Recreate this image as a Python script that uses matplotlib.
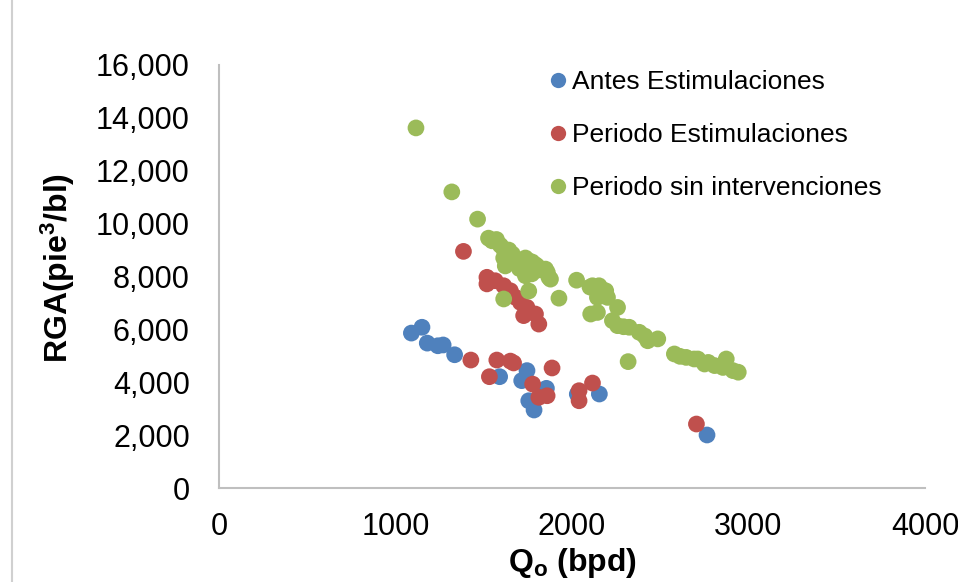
import matplotlib
matplotlib.use('Agg')
import matplotlib.pyplot as plt
from matplotlib.lines import Line2D

plt.rcParams['font.family'] = ['Liberation Sans', 'DejaVu Sans']
plt.rcParams['mathtext.fontset'] = 'custom'
plt.rcParams['mathtext.rm'] = 'Liberation Sans'
plt.rcParams['mathtext.bf'] = 'Liberation Sans:bold'
plt.rcParams['mathtext.default'] = 'bf'

# Antes Estimulaciones
antes_q = [1090, 1150, 1180, 1240, 1270, 1335, 1590, 1745, 1715, 1755, 1785, 1855, 2030, 2155, 2765]
antes_rga = [5860, 6080, 5480, 5380, 5410, 5040, 4210, 4440, 4060, 3300, 2950, 3770, 3550, 3555, 2005]

# Periodo Estimulaciones
estim_q = [1385, 1518, 1518, 1565, 1613, 1651, 1680, 1708, 1745, 1726, 1793, 1812,
           1427, 1532, 1574, 1651, 1669, 1887, 1777, 1812, 1859, 2040, 2040, 2116, 2705]
estim_rga = [8950, 7970, 7720, 7840, 7650, 7460, 7210, 7020, 6830, 6520, 6580, 6200,
             4840, 4210, 4840, 4800, 4730, 4540, 3930, 3430, 3490, 3680, 3300, 3970, 2420]

# Periodo sin intervenciones
sin_q = [1116, 1319, 1465, 1527, 1547, 1572, 1594, 1612, 1642, 1662, 1613, 1622, 1652,
         1679, 1702, 1717, 1736, 1752, 1774, 1792, 1802, 1736, 1772, 1812, 1850, 1869,
         1860, 1878, 1755, 1613, 1926, 2026, 2102, 2116, 2153, 2172, 2191, 2144, 2201,
         2258, 2106, 2144, 2229, 2258, 2292, 2324, 2381, 2412, 2429, 2486, 2318, 2580,
         2612, 2647, 2692, 2713, 2751, 2772, 2808, 2855, 2874, 2912, 2942]
sin_rga = [13620, 11200, 10170, 9450, 9350, 9400, 9180, 9050, 9000, 8850, 8700, 8400, 8550,
           8500, 8300, 8280, 8700, 8600, 8550, 8450, 8400, 8030, 8100, 8250, 8280, 7970,
           8160, 7900, 7450, 7150, 7180, 7860, 7600, 7650, 7650, 7500, 7460, 7210, 7210,
           6830, 6580, 6640, 6330, 6140, 6100, 6080, 5890, 5750, 5570, 5640, 4780, 5070,
           4980, 4940, 4880, 4880, 4690, 4750, 4630, 4560, 4880, 4440, 4380]

yticks = [0, 2000, 4000, 6000, 8000, 10000, 12000, 14000, 16000]
xticks = [0, 1000, 2000, 3000, 4000]

c_antes = '#4F81BD'
c_estim = '#C0504D'
c_sin = '#9BBB59'

fig = plt.figure(figsize=(9.58, 5.82), dpi=100)
ax = fig.add_axes([219 / 958, 94 / 582, 706 / 958, 423 / 582])

ax.scatter(antes_q, antes_rga, s=145, color=c_antes, edgecolors='none', zorder=3)
ax.scatter(estim_q, estim_rga, s=145, color=c_estim, edgecolors='none', zorder=3)
ax.scatter(sin_q, sin_rga, s=145, color=c_sin, edgecolors='none', zorder=3)

ax.set_xlim(0, 4000)
ax.set_ylim(0, 16000)
ax.set_xticks(xticks)
ax.set_yticks(yticks)
ax.set_xticklabels([str(v) for v in xticks])
ax.set_yticklabels([f'{v:,}' for v in yticks])
ax.tick_params(axis='y', length=0, pad=21, labelsize=22)
ax.tick_params(axis='x', length=0, pad=17, labelsize=22)

for s in ['top', 'right']:
    ax.spines[s].set_visible(False)
for s in ['left', 'bottom']:
    ax.spines[s].set_color('#BFBFBF')
    ax.spines[s].set_linewidth(1.5)

ax.set_ylabel('RGA(pie$^{3}$/bl)', fontsize=23, fontweight='bold')
ax.yaxis.set_label_coords(-0.228, 0.52)
ax.set_xlabel('Q$_{o}$ (bpd)', fontsize=23, fontweight='bold')
ax.xaxis.set_label_coords(0.501, -0.177)
ax.xaxis.label.set_va('center')
ax.yaxis.label.set_va('center')

handles = [
    Line2D([], [], ls='none', marker='o', ms=11, color=c_antes, mec='none'),
    Line2D([], [], ls='none', marker='o', ms=11, color=c_estim, mec='none'),
    Line2D([], [], ls='none', marker='o', ms=11, color=c_sin, mec='none'),
]
labels = ['Antes Estimulaciones', 'Periodo Estimulaciones', 'Periodo sin intervenciones']
fig.legend(handles, labels, loc='upper left', bbox_to_anchor=(550 / 958, 1 - 70 / 582),
           frameon=False, fontsize=19, handlelength=0.6, handletextpad=0.25,
           labelspacing=1.1, borderaxespad=0, borderpad=0)

# borde del area del grafico
fig.add_artist(Line2D([12 / 958, 12 / 958], [0, 1], color='#D0D0D0', lw=1.5))

fig.savefig('out.png', dpi=100)
